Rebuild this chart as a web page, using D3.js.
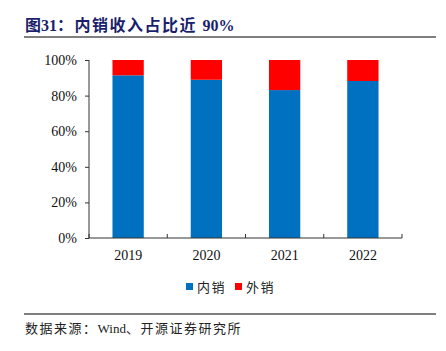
<!DOCTYPE html>
<html>
<head>
<meta charset="utf-8">
<script src="https://cdn.jsdelivr.net/npm/d3@7"></script>
<style>
  body { margin: 0; background: #fff; }
  svg { display: block; }
</style>
</head>
<body>
<svg width="446" height="351"></svg>
<script>
// data (percent share)
let years = ["2019", "2020", "2021", "2022"];
let domestic = [91.4, 88.9, 83.1, 88.2];
let overseas = [8.6, 11.1, 16.9, 11.8];
let seriesNames = ["内销", "外销"];
let yTicks = [0, 20, 40, 60, 80, 100];

let svg = d3.select("svg");
let serif = "'Liberation Serif', 'Times New Roman', 'Noto Sans CJK SC', serif";
let cjk = "'Noto Sans CJK SC', sans-serif";

// text with letter-spacing only on the CJK pieces
function spacedText(sel, parts) {
  parts.forEach(p => {
    sel.append("tspan")
      .style("letter-spacing", p[1] ? "1.5px" : "0px")
      .text(p[0]);
  });
}

// title + rules
let title = svg.append("text")
  .attr("x", 25).attr("y", 31)
  .style("font-family", serif)
  .style("font-size", "16px")
  .style("font-weight", "bold")
  .style("fill", "#1b1f6b");
spacedText(title, [["图31", false], ["：内销收入占比近 ", true], ["90%", false]]);

svg.append("line").attr("x1", 24).attr("x2", 436).attr("y1", 37).attr("y2", 37)
  .style("stroke", "#555").style("stroke-width", 1.5);
svg.append("line").attr("x1", 24).attr("x2", 436).attr("y1", 314).attr("y2", 314)
  .style("stroke", "#555").style("stroke-width", 1.5);

let source = svg.append("text")
  .attr("x", 25).attr("y", 333)
  .style("font-family", serif)
  .style("font-size", "13px")
  .style("fill", "#222");
spacedText(source, [["数据来源：", true], ["Wind", false], ["、开源证券研究所", true]]);

let xScale = d3.scaleBand().domain(years).range([89, 402]).paddingInner(0.6).paddingOuter(0.3);
let yScale = d3.scaleLinear().domain([0, 100]).range([238, 60]);
let fillScale = d3.scaleOrdinal().domain(seriesNames).range(["#0070c0", "#ff0000"]);

let table = years.map((y, i) => ({year: y, "内销": domestic[i], "外销": overseas[i]}));
let stacked = d3.stack().keys(seriesNames)(table);

svg.selectAll("g.bar")
  .data(stacked)
  .join("g")
  .attr("class", "bar")
  .style("fill", d => fillScale(d.key))
  .each(function(d) {
    d3.select(this).selectAll("rect")
      .data(d)
      .join("rect")
      .attr("x", p => xScale(p.data.year))
      .attr("width", xScale.bandwidth())
      .attr("y", p => yScale(p[1]))
      .attr("height", p => yScale(p[0]) - yScale(p[1]));
  });

// y axis
let yAxis = svg.append("g")
  .attr("transform", "translate(89,0)")
  .call(d3.axisLeft(yScale).tickValues(yTicks).tickFormat(d => d + "%").tickSize(4).tickPadding(8));
yAxis.select(".domain").attr("d", "M0," + yScale(100) + "V" + yScale(0));

// x axis with ticks between categories, pointing up
let xAxis = svg.append("g").attr("transform", "translate(0,238)");
xAxis.append("line").attr("x1", 89).attr("x2", 402).attr("y1", 0).attr("y2", 0)
  .style("stroke", "#333");
let edges = d3.range(years.length + 1).map(i => 89 + i * (313 / years.length));
xAxis.selectAll("line.tk").data(edges).join("line").attr("class", "tk")
  .attr("x1", d => d).attr("x2", d => d).attr("y1", 0).attr("y2", -4)
  .style("stroke", "#333");
xAxis.selectAll("text").data(years).join("text")
  .attr("x", d => xScale(d) + xScale.bandwidth() / 2)
  .attr("y", 22)
  .attr("text-anchor", "middle")
  .style("font-family", serif)
  .style("font-size", "14px")
  .style("fill", "#111")
  .text(d => d);

svg.selectAll(".tick text")
  .style("font-family", serif)
  .style("font-size", "14px")
  .style("fill", "#111");
svg.selectAll(".tick line, .domain").style("stroke", "#333");

// legend
let legend = svg.append("g").attr("transform", "translate(186,287)");
let items = legend.selectAll("g").data(seriesNames).join("g")
  .attr("transform", (d, i) => "translate(" + (i * 49) + ",0)");
items.append("rect").attr("x", 0).attr("y", -4).attr("width", 7).attr("height", 7)
  .style("fill", d => fillScale(d));
items.append("text").attr("x", 11).attr("y", 5)
  .style("font-family", cjk)
  .style("font-size", "13px")
  .style("letter-spacing", "1.5px")
  .style("fill", "#222")
  .text(d => d);
</script>
</body>
</html>
